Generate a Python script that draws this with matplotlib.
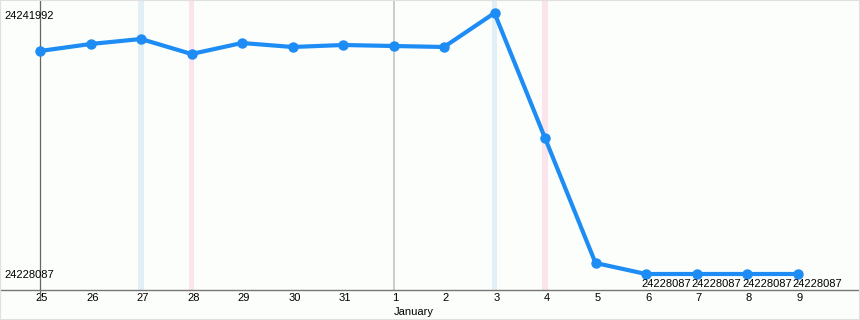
import matplotlib.pyplot as plt
from matplotlib.patches import Rectangle

# data
days = ['25', '26', '27', '28', '29', '30', '31', '1', '2', '3', '4', '5', '6', '7', '8', '9']
values = [24239967, 24240340, 24240607, 24239808, 24240394, 24240181, 24240287, 24240234,
          24240181, 24241992, 24235332, 24228673, 24228087, 24228087, 24228087, 24228087]
y_max_label = 24241992
y_min_label = 24228087
blue_bands = [2, 9]
pink_bands = [3, 10]
month_index = 7
month_name = 'January'
labelled_points = [12, 13, 14, 15]

plt.rcParams['font.family'] = ['Liberation Sans', 'DejaVu Sans']

fig = plt.figure(figsize=(8.6, 3.2), dpi=100)
fig.patch.set_facecolor('#fbfefb')
ax = fig.add_axes([0, 30 / 320, 1, 290 / 320])
ax.set_facecolor('#fbfefb')

x = list(range(len(days)))
step = 50.5
ax.set_xlim(-40 / step, (860 - 40) / step)
per_px = (y_max_label - y_min_label) / 261
ax.set_ylim(y_min_label - 16 * per_px, y_max_label + 13 * per_px)

# weekend bands and month separator
for i in blue_bands:
    ax.axvspan(i - 0.05, i + 0.05, color='#e2eff5', lw=0, zorder=1)
for i in pink_bands:
    ax.axvspan(i - 0.05, i + 0.05, color='#fbe4ec', lw=0, zorder=1)
ax.axvline(month_index, color='#c8c8c8', lw=1.3, zorder=1)
ax.plot([0, 0], [-0.03, 1], color='#666666', lw=0.9, transform=ax.get_xaxis_transform(),
        clip_on=False, zorder=2)

# series
ax.plot(x, values, color='#1e8cf5', lw=3, marker='o', markersize=6.5, zorder=3)

# labels
ax.text(4 / step - 40 / step, y_max_label - 3 * per_px, str(y_max_label), fontsize=8,
        ha='left', va='center', zorder=4)
ax.text(4 / step - 40 / step, y_min_label - 1.5 * per_px, str(y_min_label), fontsize=8,
        ha='left', va='center', zorder=4)
for i in labelled_points:
    ax.text(i - 5 / step, values[i] - 9.5 * per_px, str(values[i]), fontsize=8, ha='left',
            va='center', zorder=4)

# axes
for s in ['top', 'right', 'left']:
    ax.spines[s].set_visible(False)
ax.spines['bottom'].set_color('#777777')
ax.spines['bottom'].set_linewidth(1)
ax.set_yticks([])
ax.set_xticks([i + 2 / step for i in x])
ax.set_xticklabels(days, fontsize=8)
ax.tick_params(axis='x', length=0, pad=2.5)
ax.text(month_index, -0.075, month_name, fontsize=8, ha='left', va='center',
        transform=ax.get_xaxis_transform())

fig.add_artist(Rectangle((0, 0), 1, 1, transform=fig.transFigure, fill=False,
                         edgecolor='#e0e0e0', lw=1.5))

plt.savefig('out.png', dpi=100, facecolor=fig.get_facecolor())
